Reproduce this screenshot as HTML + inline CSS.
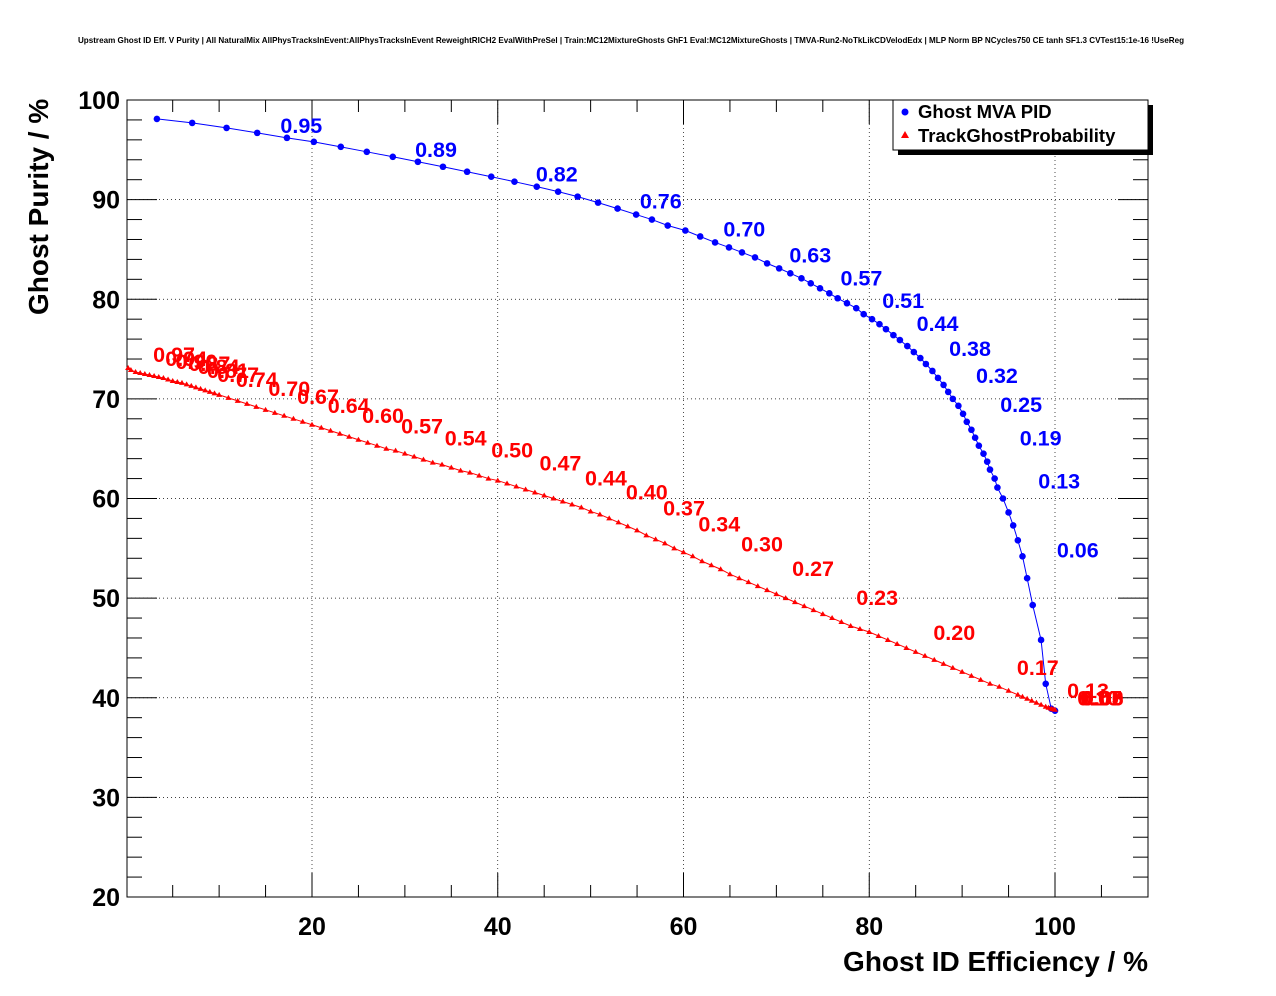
<!DOCTYPE html>
<html><head><meta charset="utf-8"><style>
body{margin:0;background:#fff;}
svg{display:block;font-family:"Liberation Sans",sans-serif;}
</style></head><body>
<svg id="chart" width="1276" height="996">
<text x="631" y="43" font-size="8.1" font-weight="bold" text-anchor="middle">Upstream Ghost ID Eff. V Purity | All NaturalMix AllPhysTracksInEvent:AllPhysTracksInEvent ReweightRICH2 EvalWithPreSel | Train:MC12MixtureGhosts GhF1 Eval:MC12MixtureGhosts | TMVA-Run2-NoTkLikCDVelodEdx | MLP Norm BP NCycles750 CE tanh SF1.3 CVTest15:1e-16 !UseReg</text>
<g id="grid"></g>
<g id="axes"></g>
<g id="series"></g>
<text x="1148" y="971" font-size="28" font-weight="bold" text-anchor="end">Ghost ID Efficiency / %</text>
<text transform="translate(48,315) rotate(-90)" font-size="28" font-weight="bold">Ghost Purity / %</text>
<g>
<rect x="898" y="105" width="255" height="50" fill="#000"/>
<rect x="893" y="100" width="255" height="50" fill="#fff" stroke="#000"/>
<circle cx="905" cy="112" r="3.5" fill="#0000ff"/>
<text x="918" y="118" font-size="18.5" font-weight="bold">Ghost MVA PID</text>
<polygon points="905,131 909,138 901,138" fill="#ff0000"/>
<text x="918" y="142" font-size="18.5" font-weight="bold">TrackGhostProbability</text>
</g>
</svg>
<script>
const xTicks=[20,40,60,80,100];
const yTicks=[20,30,40,50,60,70,80,90,100];
const blueX=[3.3,7.1,10.8,14.1,17.3,20.2,23.1,25.9,28.7,31.4,34.1,36.7,39.3,41.8,44.2,46.5,48.6,50.8,52.9,54.9,56.6,58.3,60.2,61.8,63.4,64.9,66.3,67.7,69.0,70.3,71.5,72.7,73.7,74.7,75.7,76.6,77.6,78.6,79.4,80.3,81.1,81.8,82.6,83.3,84.1,84.8,85.5,86.1,86.8,87.4,88.0,88.5,89.0,89.6,90.1,90.5,91.0,91.4,91.8,92.3,92.7,93.0,93.5,93.8,94.4,95.0,95.5,96.0,96.5,97.0,97.6,98.5,99.0,99.6,100];
const blueY=[98.1,97.7,97.2,96.7,96.2,95.8,95.3,94.8,94.3,93.8,93.3,92.8,92.3,91.8,91.3,90.8,90.3,89.7,89.1,88.5,88.0,87.4,86.9,86.3,85.7,85.2,84.7,84.2,83.6,83.1,82.6,82.1,81.6,81.1,80.6,80.1,79.6,79.1,78.5,78.0,77.5,77.0,76.4,75.9,75.3,74.7,74.1,73.5,72.8,72.1,71.4,70.7,70.0,69.3,68.5,67.7,66.9,66.1,65.3,64.5,63.7,62.9,62.0,61.1,60.0,58.6,57.3,55.8,54.2,52.0,49.3,45.8,41.4,38.9,38.7];
const redX=[0.2,0.5,1,1.5,2,2.5,3,3.5,4,4.5,5,5.5,6,6.5,7,7.5,8,8.5,9,9.5,10,11,12,13,14,15,16,17,18,19,20,21,22,23,24,25,26,27,28,29,30,31,32,33,34,35,36,37,38,39,40,41,42,43,44,45,46,47,48,49,50,51,52,53,54,55,56,57,58,59,60,61,62,63,64,65,66,67,68,69,70,71,72,73,74,75,76,77,78,79,80,81,82,83,84,85,86,87,88,89,90,91,92,93,94,95,96,96.5,97,97.5,98,98.5,99,99.3,99.6,99.8,100];
const redY=[73.1,72.9,72.7,72.6,72.5,72.4,72.3,72.2,72.1,71.95,71.8,71.7,71.6,71.45,71.3,71.15,71.0,70.85,70.7,70.55,70.4,70.1,69.8,69.5,69.2,68.9,68.6,68.3,68.0,67.7,67.4,67.1,66.8,66.5,66.2,65.9,65.6,65.3,65.0,64.8,64.5,64.2,63.9,63.6,63.4,63.1,62.8,62.6,62.3,62.0,61.8,61.5,61.2,60.9,60.6,60.3,60.0,59.7,59.4,59.1,58.7,58.4,58.0,57.6,57.2,56.8,56.3,55.9,55.5,55.0,54.6,54.2,53.7,53.3,52.9,52.4,52.0,51.6,51.2,50.8,50.4,50.0,49.6,49.2,48.8,48.4,48.0,47.6,47.2,46.9,46.6,46.2,45.8,45.4,45.0,44.6,44.2,43.8,43.4,43.0,42.6,42.2,41.8,41.4,41.1,40.7,40.3,40.1,39.9,39.7,39.5,39.3,39.1,39.0,38.9,38.85,38.8];
const blueLabels=["0.95","0.89","0.82","0.76","0.70","0.63","0.57","0.51","0.44","0.38","0.32","0.25","0.19","0.13","0.06"];
const blueLabX=[16.6,31.1,44.1,55.3,64.3,71.4,76.9,81.4,85.1,88.6,91.5,94.1,96.2,98.2,100.2];
const blueLabY=[96.7,94.3,91.8,89.1,86.3,83.7,81.4,79.1,76.8,74.3,71.6,68.7,65.3,61.0,54.1];
const redLabels=["0.97","0.94","0.90","0.87","0.84","0.81","0.77","0.74","0.70","0.67","0.64","0.60","0.57","0.54","0.50","0.47","0.44","0.40","0.37","0.34","0.30","0.27","0.23","0.20","0.17","0.13","0.10","0.07","0.03","0.00"];
const redLabX=[2.9,4.2,5.3,6.7,7.7,8.7,9.8,11.8,15.3,18.4,21.7,25.4,29.6,34.3,39.3,44.5,49.4,53.8,57.8,61.6,66.2,71.7,78.6,86.9,95.9,101.3,102.4,102.7,102.9,102.9];
const redLabY=[73.7,73.3,73.0,72.8,72.5,72.1,71.7,71.2,70.3,69.5,68.6,67.6,66.5,65.3,64.1,62.8,61.3,59.9,58.3,56.7,54.7,52.2,49.3,45.8,42.3,40.0,39.2,39.2,39.2,39.2];

const X0=126.25,XS=9.2875,Y0=100,YS=9.9625;
const L=127,R=1148,T=100,B=897;
function sx(v){return X0+v*XS;}
function sy(v){return Y0+(100-v)*YS;}
const NS='http://www.w3.org/2000/svg';
function mk(parent,tag,attrs){const e=document.createElementNS(NS,tag);for(const k in attrs)e.setAttribute(k,attrs[k]);document.getElementById(parent).appendChild(e);return e;}

xTicks.forEach(t=>{
  const g=mk('grid','line',{x1:sx(t),x2:sx(t),y1:T,y2:B,stroke:'#000','stroke-width':0.7,'stroke-dasharray':'1,3'});
  
  
  const lb=mk('axes','text',{x:sx(t),y:935,'font-size':25,'font-weight':'bold','text-anchor':'middle'});
  lb.textContent=t;
  
  
});
yTicks.forEach(t=>{
  if(t>20&&t<100){
  const g=mk('grid','line',{x1:L,x2:R,y1:sy(t),y2:sy(t),stroke:'#000','stroke-width':0.7,'stroke-dasharray':'1,3'});
  
  }
  const lb=mk('axes','text',{x:120,y:sy(t)+9,'font-size':25,'font-weight':'bold','text-anchor':'end'});
  lb.textContent=t;
  
  
});
for(let v=5;v<=105;v+=5){const len=(v%20===0)?24:12;
  mk('axes','line',{x1:sx(v),x2:sx(v),y1:B,y2:B-len,stroke:'#000'});
  mk('axes','line',{x1:sx(v),x2:sx(v),y1:T,y2:T+len,stroke:'#000'});}
for(let v=20;v<=100;v+=2){const len=(v%10===0)?30:15;
  mk('axes','line',{x1:L,x2:L+len,y1:sy(v),y2:sy(v),stroke:'#000'});
  mk('axes','line',{x1:R,x2:R-len,y1:sy(v),y2:sy(v),stroke:'#000'});}
const fr=mk('axes','rect',{x:L,y:T,width:R-L,height:B-T,fill:'none',stroke:'#000'});



const bl=mk('series','polyline',{points:blueX.map((x,i)=>sx(x)+','+sy(blueY[i])).join(' '),fill:'none',stroke:'#0000ff','stroke-width':1});


const rl=mk('series','polyline',{points:redX.map((x,i)=>sx(x)+','+sy(redY[i])).join(' '),fill:'none',stroke:'#ff0000','stroke-width':1});


blueX.forEach((x,i)=>{
  const c=mk('series','circle',{cx:sx(x),cy:sy(blueY[i]),r:3.3,fill:'#0000ff'});
  
  
});
redX.forEach((x,i)=>{
  const px=sx(x),py=sy(redY[i]);
  const p=mk('series','polygon',{points:`${px},${py-3} ${px+3},${py+2} ${px-3},${py+2}`,fill:'#ff0000'});
  
  
});
blueLabels.forEach((s,i)=>{
  const t=mk('series','text',{x:sx(blueLabX[i]),y:sy(blueLabY[i]),'font-size':21.5,'font-weight':'bold',fill:'#0000ff'});
  t.textContent=s;
  
  
});
redLabels.forEach((s,i)=>{
  const t=mk('series','text',{x:sx(redLabX[i]),y:sy(redLabY[i]),'font-size':21.5,'font-weight':'bold',fill:'#ff0000'});
  t.textContent=s;
  
  
});
</script>
</body></html>
